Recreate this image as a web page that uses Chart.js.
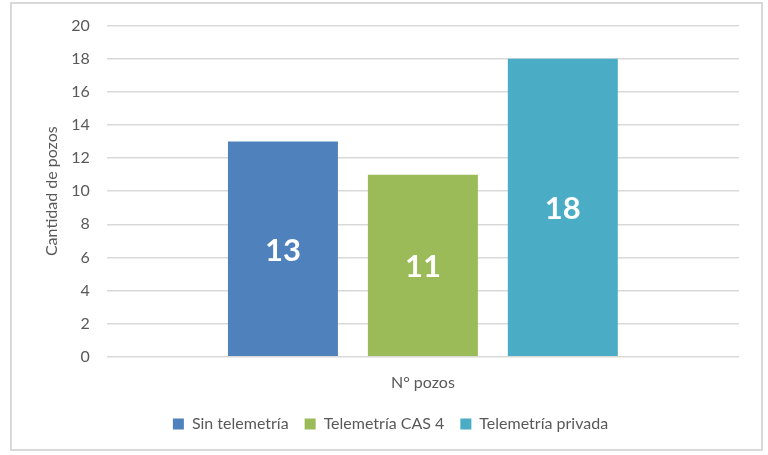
<!DOCTYPE html>
<html>
<head>
<meta charset="utf-8">
<script src="https://cdn.jsdelivr.net/npm/chart.js@4/dist/chart.umd.min.js"></script>
<style>
  html, body { margin: 0; padding: 0; background: #fff; }
  #box {
    position: absolute; left: 10px; top: 2px;
    width: 753px; height: 449px;
    border: 2px solid #d9d9d9; box-sizing: border-box;
  }
  #wrap { position: absolute; left: 0; right: 0; top: -5px; bottom: 0; }
</style>
</head>
<body>
<div id="box"><div id="wrap"><canvas id="chart"></canvas></div></div>
<script>
// ── Data ──────────────────────────────────────
const categories = ['N° pozos'];
const seriesNames = ['Sin telemetría', 'Telemetría CAS 4', 'Telemetría privada'];
const seriesValues = [13, 11, 18];
const seriesColors = ['#4f81bd', '#9bbb59', '#4bacc6'];
const yTicks = [0, 2, 4, 6, 8, 10, 12, 14, 16, 18, 20];

const FONT = 'Lato, "Noto Sans", sans-serif';
const GREY = '#595959';

// white value labels in the middle of each bar
const barLabels = {
  id: 'barLabels',
  afterDatasetsDraw(chart) {
    const ctx = chart.ctx;
    ctx.save();
    ctx.fillStyle = '#fff';
    ctx.font = `bold 31px ${FONT}`;
    ctx.textAlign = 'center';
    ctx.textBaseline = 'middle';
    chart.data.datasets.forEach((ds, i) => {
      chart.getDatasetMeta(i).data.forEach((bar, j) => {
        const mid = (bar.y + bar.base) / 2;
        ctx.fillText(ds.data[j], bar.x, mid + 2);
      });
    });
    ctx.restore();
  }
};

const datasets = seriesNames.map((name, i) => ({
  label: name,
  data: [seriesValues[i]],
  backgroundColor: seriesColors[i],
  categoryPercentage: 0.664,
  barPercentage: 0.786
}));

new Chart(document.getElementById('chart'), {
  type: 'bar',
  data: { labels: categories, datasets },
  plugins: [barLabels],
  options: {
    responsive: true, maintainAspectRatio: false,
    animation: false,
    layout: { padding: { left: 30, right: 22, top: 0, bottom: 7 } },
    plugins: {
      tooltip: { enabled: false },
      legend: {
        position: 'bottom',
        labels: {
          color: GREY, font: { family: FONT, size: 16 },
          boxWidth: 11, boxHeight: 11, padding: 16
        }
      }
    },
    scales: {
      x: {
        grid: { display: false },
        border: { display: false },
        ticks: { color: GREY, font: { family: FONT, size: 16 }, padding: 8 }
      },
      y: {
        min: 0, max: 20,
        afterBuildTicks(axis) { axis.ticks = yTicks.map(v => ({ value: v })); },
        grid: { color: '#d9d9d9', lineWidth: 1.5, drawTicks: false },
        border: { display: false },
        ticks: { color: GREY, font: { family: FONT, size: 16 }, padding: 17 },
        title: {
          display: true, text: 'Cantidad de pozos',
          color: GREY, font: { family: FONT, size: 16 }, padding: { top: 0, bottom: -7 }
        }
      }
    }
  }
});
</script>
</body>
</html>
